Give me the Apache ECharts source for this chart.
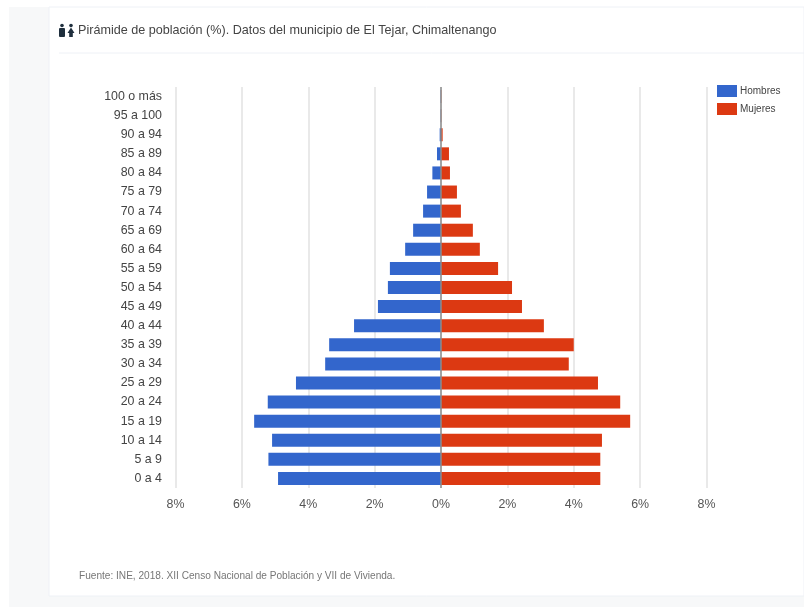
<!DOCTYPE html>
<html><head><meta charset="utf-8">
<style>html,body{margin:0;padding:0;background:#fff}#c{width:804px;height:607px;filter:blur(0.35px)}</style>
<script src="https://cdn.jsdelivr.net/npm/echarts@6/dist/echarts.min.js"></script>
</head><body><div id="c"></div>
<script>
const categories=["0 a 4","5 a 9","10 a 14","15 a 19","20 a 24","25 a 29","30 a 34","35 a 39","40 a 44","45 a 49","50 a 54","55 a 59","60 a 64","65 a 69","70 a 74","75 a 79","80 a 84","85 a 89","90 a 94","95 a 100","100 o más"];
const hombres=[-4.91,-5.2,-5.09,-5.63,-5.22,-4.37,-3.49,-3.37,-2.62,-1.9,-1.6,-1.54,-1.08,-0.84,-0.54,-0.42,-0.26,-0.12,-0.04,-0.01,-0.01];
const mujeres=[4.8,4.8,4.85,5.7,5.4,4.73,3.85,4.0,3.1,2.44,2.14,1.72,1.17,0.96,0.6,0.48,0.27,0.24,0.05,0.01,0.01];
const titleText="Pirámide de población (%). Datos del municipio de El Tejar, Chimaltenango";
const sourceText="Fuente: INE, 2018. XII Censo Nacional de Población y VII de Vivienda.";
const font="'Liberation Sans', Arial, sans-serif";
const chart=echarts.init(document.getElementById('c'),null,{renderer:'canvas'});
chart.setOption({
 animation:false,
 backgroundColor:'#fff',
 graphic:[
  {type:'rect',z:-10,shape:{x:9,y:7,width:795,height:600},style:{fill:'#f7f8f9'}},
  {type:'rect',z:-9,shape:{x:49,y:7,width:755,height:589},style:{fill:'#fff',stroke:'#eef1f6',lineWidth:1}},
  {type:'line',z:-8,shape:{x1:59,y1:53,x2:804,y2:53},style:{stroke:'#eef1f6',lineWidth:1}},
  {type:'circle',shape:{cx:62,cy:25.5,r:1.8},style:{fill:'#1f2f3d'}},
  {type:'rect',shape:{x:59,y:28,width:6,height:9,r:1},style:{fill:'#1f2f3d'}},
  {type:'circle',shape:{cx:71,cy:25.5,r:1.8},style:{fill:'#1f2f3d'}},
  {type:'polygon',shape:{points:[[71,27.5],[74.5,33],[72.8,33],[72.8,37],[69.2,37],[69.2,33],[67.5,33]]},style:{fill:'#1f2f3d'}},
  {type:'text',left:78,top:24.5,style:{text:titleText,font:"12.6px "+font,fill:'#444'}},
  {type:'text',left:79,top:571,style:{text:sourceText,font:"10.1px "+font,fill:'#777'}}
 ],
 legend:{orient:'vertical',left:712,top:80,itemWidth:20,itemHeight:12,itemGap:6,icon:'rect',
  textStyle:{fontFamily:font,fontSize:10,color:'#444',padding:[0,0,0,-2]},data:['Hombres','Mujeres']},
 grid:{left:175.5,right:97.5,top:87,bottom:119,containLabel:false},
 xAxis:{type:'value',min:-8,max:8,interval:2,
  axisLine:{show:false},axisTick:{show:false},
  axisLabel:{margin:11,fontFamily:font,fontSize:12.4,color:'#555',formatter:v=>Math.abs(v)+'%'},
  splitLine:{show:true,lineStyle:{color:'#e2e2e2',width:1.5}}},
 yAxis:{type:'category',data:categories,
  axisLine:{show:false},axisTick:{show:false},
  axisLabel:{show:true,margin:13.5,fontFamily:font,fontSize:12.4,color:'#444',interval:0}},
 series:[
  {name:'Hombres',type:'bar',stack:'p',data:hombres,barWidth:13,itemStyle:{color:'#3366cc'}},
  {name:'Mujeres',type:'bar',stack:'p',data:mujeres,barWidth:13,itemStyle:{color:'#dc3912'},
   markLine:{silent:true,symbol:'none',label:{show:false},lineStyle:{color:'#8c8c8c',width:1.5,type:'solid'},data:[{xAxis:0}],z:10}}
 ]
});
</script></body></html>
